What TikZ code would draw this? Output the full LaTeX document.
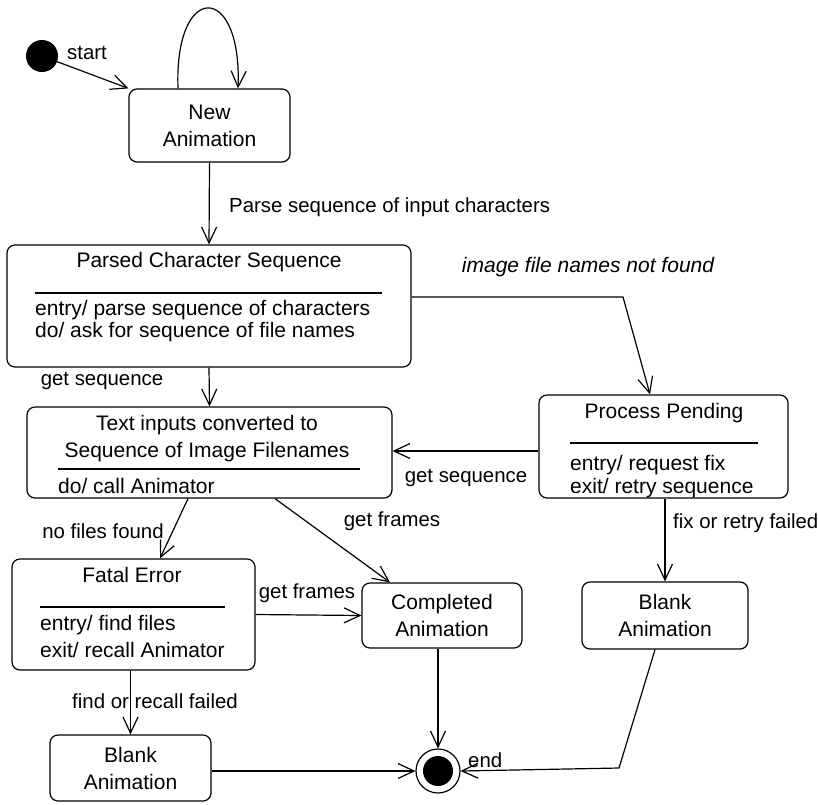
\documentclass[tikz,border=0pt]{standalone}
\usepackage{fontspec}
\setmainfont{Liberation Sans}
\usetikzlibrary{arrows.meta}
\begin{document}
\begin{tikzpicture}[x=1pt,y=-1pt,
  every node/.style={font=\fontsize{21}{27}\selectfont, inner sep=0pt},
  state/.style={draw, rounded corners=8pt, line width=1.2pt, align=center},
  txt/.style={text height=15pt, text depth=5pt},
  lbl/.style={txt, font=\fontsize{20.4}{26}\selectfont},
  sep/.style={line width=1.2pt},
  conn/.style={line width=1.2pt, -{Straight Barb[length=16pt,width=15pt,line width=1.2pt]}}
]
\useasboundingbox (0,0) rectangle (818,804);

% states
\node[circle, fill=black, minimum size=32pt] (start) at (42,56) {};
\node[state, minimum width=161pt, minimum height=73pt] (new) at (209.5,125.5) {New\\Animation};
\node[state, minimum width=404pt, minimum height=122pt] (parsed) at (209,306) {};
\node[state, minimum width=365pt, minimum height=91pt] (textin) at (209.5,452.5) {};
\node[state, minimum width=249pt, minimum height=103pt] (pending) at (663.5,446.5) {};
\node[state, minimum width=243pt, minimum height=111pt] (fatal) at (133.5,614.5) {};
\node[state, minimum width=160pt, minimum height=65pt] (completed) at (442,615.5) {Completed\\Animation};
\node[state, minimum width=166pt, minimum height=67pt] (blankR) at (665,615.5) {Blank\\Animation};
\node[state, minimum width=161pt, minimum height=66pt] (blankL) at (130.5,768) {Blank\\Animation};
\node[circle, draw, line width=1.2pt, minimum size=44pt,
  path picture={\fill[black] (path picture bounding box.center) circle (15pt);}] (end) at (438,771) {};

% compartments
\node[txt] (parsedT) at (209,262) {Parsed Character Sequence};
\draw[sep] (35,293) -- (382,293);
\node[txt, anchor=west] (parsedA) at (35,310) {entry/ parse sequence of characters};
\node[txt, anchor=west] (parsedB) at (35,332) {do/ ask for sequence of file names};

\node[txt] (textinT1) at (207,425) {Text inputs converted to};
\node[txt] (textinT2) at (207,452) {Sequence of Image Filenames};
\draw[sep] (58,469) -- (360,469);
\node[txt, anchor=west] (textinA) at (58,488) {do/ call Animator};

\node[txt] (pendingT) at (664,413) {Process Pending};
\draw[sep] (570,443) -- (758,443);
\node[txt, anchor=west] (pendingA) at (570,465) {entry/ request fix};
\node[txt, anchor=west] (pendingB) at (570,488) {exit/ retry sequence};

\node[txt] (fatalT) at (132,577) {Fatal Error};
\draw[sep] (40,607) -- (225,607);
\node[txt, anchor=west] (fatalA) at (40,625) {entry/ find files};
\node[txt, anchor=west] (fatalB) at (40,652) {exit/ recall Animator};

% connectors
\draw[conn] (start) -- (new.north west);
\draw[conn] ([xshift=-31.5pt]new.north) .. controls +(-4,-107) and +(4,-107) .. ([xshift=28.5pt]new.north);
\draw[conn] (new.south) -- (parsed.north);
\coordinate (bend1) at (623,297);
\draw[conn] ([yshift=9pt]parsed.east) -- (bend1) -- ([xshift=-13.5pt]pending.north);
\draw[conn] (parsed.south) -- (textin.north);
\draw[conn] ([yshift=-4.5pt]pending.west) -- ([yshift=1.5pt]textin.east);
\draw[conn] (pending.south -| blankR.north) -- (blankR.north);
\draw[conn] ([xshift=-21.5pt]textin.south) -- ([xshift=26.5pt]fatal.north);
\draw[conn] ([xshift=65.5pt]textin.south) -- ([xshift=-52pt]completed.north);
\draw[conn] (fatal.east) -- (completed.west);
\draw[conn] (fatal.south -| blankL.north) -- (blankL.north);
\draw[conn] (completed.south -| end.north) -- (end.north);
\draw[conn] (blankL.east |- end.west) -- (end.west);
\coordinate (bend2) at (619,768);
\draw[conn] ([xshift=-10pt]blankR.south) -- (bend2) -- (end.east);

% labels
\node[lbl, anchor=west] (lstart) at (67,54) {start};
\node[lbl, anchor=west] (lparse) at (229,207) {Parse sequence of input characters};
\node[txt, font=\fontsize{21}{27}\selectfont\itshape] (lnotfound) at (588,267) {image file names not found};
\node[lbl] (lgetseq1) at (102,380) {get sequence};
\node[lbl] (lgetseq2) at (466,477) {get sequence};
\node[lbl, anchor=west] (lfix) at (673,523) {fix or retry failed};
\node[lbl] (lnofiles) at (103,533) {no files found};
\node[lbl] (lgetframes1) at (392,521) {get frames};
\node[lbl] (lgetframes2) at (307,593) {get frames};
\node[lbl] (lfind) at (155,703) {find or recall failed};
\node[lbl, anchor=west] (lend) at (468,762) {end};
\end{tikzpicture}
\end{document}
